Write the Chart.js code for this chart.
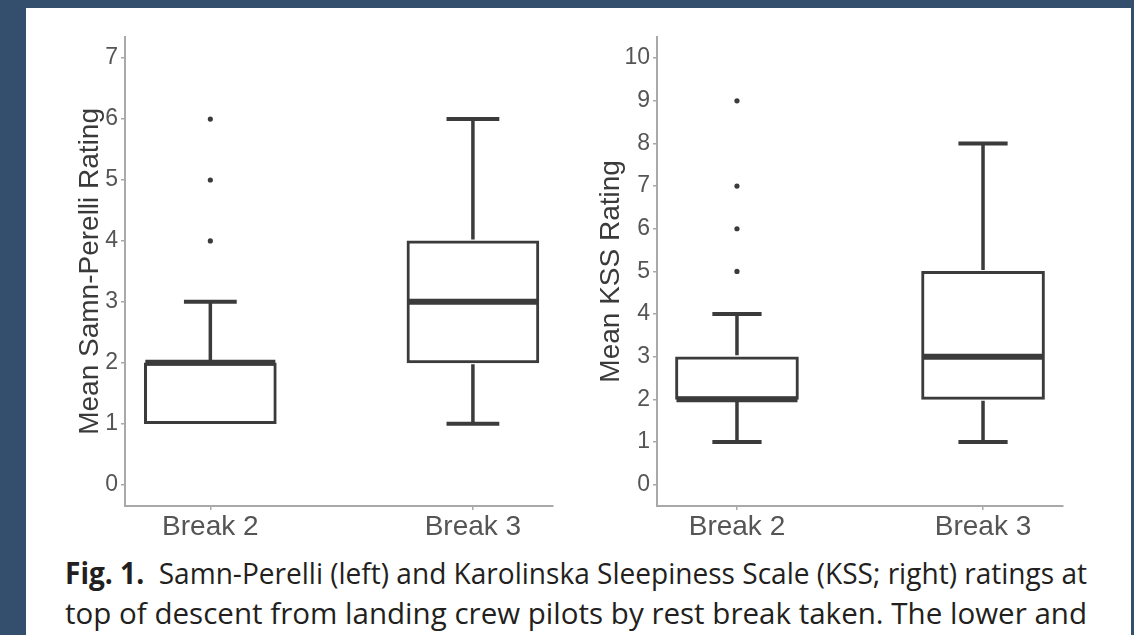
<!DOCTYPE html>
<html>
<head>
<meta charset="utf-8">
<script src="https://cdn.jsdelivr.net/npm/chart.js@4.4.1/dist/chart.umd.min.js"></script>
<style>
  html, body { margin: 0; padding: 0; }
  body { width: 1134px; height: 635px; background: #344f6d; position: relative; overflow: hidden; }
  #sheet { position: absolute; left: 26px; top: 8px; width: 1105px; height: 627px; background: #fff; }
  .box { position: absolute; }
  .cap { position: absolute; left: 65px; font-family: "Open Sans", sans-serif; font-size: 30px; color: #231f20;
         white-space: nowrap; transform-origin: 0 0; line-height: 40px; }
</style>
</head>
<body>
<div id="sheet"></div>
<div class="box" style="left:50px;top:20px;width:520px;height:530px;"><canvas id="spChart"></canvas></div>
<div class="box" style="left:580px;top:20px;width:500px;height:530px;"><canvas id="kssChart"></canvas></div>
<div class="cap" id="cap1" data-w="1022" style="top:553px;"><b>Fig. 1.</b>&nbsp; Samn-Perelli (left) and Karolinska Sleepiness Scale (KSS; right) ratings at</div>
<div class="cap" id="cap2" data-w="1022" style="top:593px;">top of descent from landing crew pilots by rest break taken. The lower and</div>
<script>
// categories and positions on the x axis
const categories = ['Break 2', 'Break 3'];
const catPos = [1, 2];

// Samn-Perelli box stats
const spLow = [1, 1];
const spQ1 = [1, 2];
const spMedian = [2, 3];
const spQ3 = [2, 4];
const spHigh = [3, 6];
const spOutliers = [[4, 5, 6], []];
const spTicks = [0, 1, 2, 3, 4, 5, 6, 7];

// KSS box stats
const kssLow = [1, 1];
const kssQ1 = [2, 2];
const kssMedian = [2, 3];
const kssQ3 = [3, 5];
const kssHigh = [4, 8];
const kssOutliers = [[5, 6, 7, 9], []];
const kssTicks = [0, 1, 2, 3, 4, 5, 6, 7, 8, 9, 10];

const lineColor = '#3b3b3b';
const axisColor = '#a9a9a9';
const textColor = '#555';

// draws median, whiskers and caps with the chart's own scales
const boxWhiskers = {
  id: 'boxWhiskers',
  afterDatasetsDraw(chart, args, opts) {
    const {ctx, scales: {x, y}} = chart;
    const bars = chart.getDatasetMeta(0).data;
    ctx.save();
    ctx.strokeStyle = lineColor;
    ctx.lineCap = 'butt';
    opts.median.forEach((m, i) => {
      const bar = bars[i];
      const cx = x.getPixelForValue(catPos[i]);
      const half = bar.width / 2;
      const capHalf = bar.width * 0.2;
      const ends = [];
      // whiskers
      ctx.lineWidth = 3.5;
      ctx.beginPath();
      if (opts.low[i] < opts.q1[i]) {
        ctx.moveTo(cx, y.getPixelForValue(opts.q1[i]) + 1.5);
        ctx.lineTo(cx, y.getPixelForValue(opts.low[i]));
        ends.push(opts.low[i]);
      }
      if (opts.high[i] > opts.q3[i]) {
        ctx.moveTo(cx, y.getPixelForValue(opts.q3[i]) - 1.5);
        ctx.lineTo(cx, y.getPixelForValue(opts.high[i]));
        ends.push(opts.high[i]);
      }
      ctx.stroke();
      // caps
      ctx.lineWidth = 4;
      ctx.beginPath();
      ends.forEach(v => {
        const py = y.getPixelForValue(v);
        ctx.moveTo(cx - capHalf, py);
        ctx.lineTo(cx + capHalf, py);
      });
      ctx.stroke();
      // median
      ctx.lineWidth = 6;
      ctx.beginPath();
      const my = y.getPixelForValue(m);
      ctx.moveTo(cx - half + 1, my);
      ctx.lineTo(cx + half - 1, my);
      ctx.stroke();
    });
    ctx.restore();
  }
};

function makeBoxChart(id, st) {
  const boxData = catPos.map((p, i) => ({x: p, y: [st.q1[i], st.q3[i]]}));
  const outData = [];
  st.outliers.forEach((list, i) => list.forEach(v => outData.push({x: catPos[i], y: v})));
  return new Chart(document.getElementById(id), {
    type: 'bar',
    data: {
      datasets: [{
        data: boxData,
        backgroundColor: '#fff',
        borderColor: lineColor,
        borderWidth: 3,
        borderSkipped: false,
        barThickness: st.boxWidth,
        order: 2
      }, {
        type: 'scatter',
        data: outData,
        pointRadius: 2.6,
        pointBackgroundColor: lineColor,
        pointBorderWidth: 0,
        order: 1
      }]
    },
    options: {
      responsive: true,
      maintainAspectRatio: false,
      animation: false,
      layout: {padding: {top: 10, right: 17, left: 0, bottom: 0}},
      plugins: {
        legend: {display: false},
        tooltip: {enabled: false},
        boxWhiskers: {low: st.low, q1: st.q1, median: st.median, q3: st.q3, high: st.high}
      },
      scales: {
        x: {
          type: 'linear',
          min: st.xMin,
          max: st.xMax,
          offset: false,
          afterBuildTicks: s => { s.ticks = catPos.map(v => ({value: v})); },
          afterFit: s => { s.height = 44; },
          ticks: {
            callback: (v, i) => categories[i],
            color: textColor,
            font: {family: 'Liberation Sans', size: 28},
            padding: 0,
            maxRotation: 0
          },
          grid: {offset: false, drawOnChartArea: false, drawTicks: true, tickLength: 4, color: axisColor, lineWidth: 1.5},
          border: {display: true, color: axisColor, width: 2}
        },
        y: {
          min: st.yMin,
          max: st.yMax,
          afterBuildTicks: s => { s.ticks = st.ticks.map(v => ({value: v})); },
          afterFit: s => { s.width = st.axisWidth; },
          ticks: {
            color: textColor,
            font: {family: 'Liberation Sans', size: 23},
            padding: 3
          },
          grid: {drawOnChartArea: false, drawTicks: true, tickLength: 4, color: axisColor, lineWidth: 1.5},
          border: {display: true, color: axisColor, width: 2},
          title: {
            display: true,
            text: st.title,
            color: '#3a3a3a',
            font: {family: 'Liberation Sans', size: 28},
            padding: {top: st.titlePad, bottom: 0}
          }
        }
      }
    },
    plugins: [boxWhiskers]
  });
}

makeBoxChart('spChart', {
  low: spLow, q1: spQ1, median: spMedian, q3: spQ3, high: spHigh, outliers: spOutliers,
  ticks: spTicks, yMin: -0.35, yMax: 7.35, xMin: 0.675, xMax: 2.305,
  boxWidth: 132, axisWidth: 75, titlePad: 23, title: 'Mean Samn-Perelli Rating'
});

makeBoxChart('kssChart', {
  low: kssLow, q1: kssQ1, median: kssMedian, q3: kssQ3, high: kssHigh, outliers: kssOutliers,
  ticks: kssTicks, yMin: -0.5, yMax: 10.5, xMin: 0.675, xMax: 2.325,
  boxWidth: 123, axisWidth: 77, titlePad: 14, title: 'Mean KSS Rating'
});

// squeeze caption lines to the reference width
document.querySelectorAll('.cap').forEach(el => {
  const w = el.getBoundingClientRect().width;
  el.style.transform = 'scaleX(' + (parseFloat(el.dataset.w) / w) + ')';
});
</script>
</body>
</html>
